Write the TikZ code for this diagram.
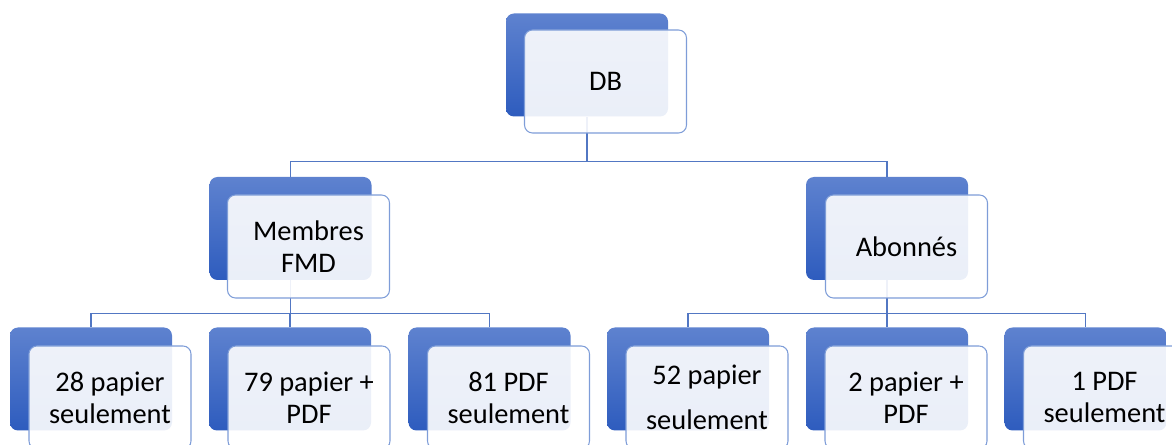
\documentclass[tikz,border=0pt]{standalone}
\usepackage{fontspec}
\setmainfont{Carlito}
\usetikzlibrary{positioning}
\definecolor{boxtop}{HTML}{5E82CF}
\definecolor{boxbot}{HTML}{2E5CBE}
\definecolor{boxline}{HTML}{7E9DD8}
\definecolor{linkcol}{HTML}{5277C3}
\begin{document}
\begin{tikzpicture}[x=0.75pt, y=-0.75pt,
  back/.style={rounded corners=6pt, top color=boxtop, bottom color=boxbot,
    minimum width=121.5pt, minimum height=77.25pt, inner sep=0pt},
  front/.style={rounded corners=6pt, draw=boxline, line width=0.8pt,
    fill=white, fill opacity=0.9, text opacity=1, inner sep=0pt,
    minimum width=121.5pt, minimum height=77.25pt, align=center,
    font=\fontsize{21.3}{24}\selectfont},
  link/.style={draw=linkcol, line width=0.8pt}]
\useasboundingbox (0,0) rectangle (1172,445);
\clip (0,0) rectangle (1172,445);
% back boxes
\node [back] (db) at (587, 65) {};
\node [back] (fmd) at (290.5, 228.5) {};
\node [back] (abo) at (887, 228.5) {};
\node [back] (p28) at (91, 379) {};
\node [back] (p79) at (290, 379) {};
\node [back] (pdf81) at (489.5, 379) {};
\node [back] (p52) at (688, 379) {};
\node [back] (p2) at (887, 379) {};
\node [back] (pdf1) at (1085.5, 379) {};
% connectors
\draw [link] (db.south) -- ++(0,45) -| (fmd.north);
\draw [link] (db.south) -- ++(0,45) -| (abo.north);
\draw [link] (fmd.south) -- ++(0,33) -| (p28.north);
\draw [link] (fmd.south) -- ++(0,33) -| (p79.north);
\draw [link] (fmd.south) -- ++(0,33) -| (pdf81.north);
\draw [link] (abo.south) -- ++(0,33) -| (p52.north);
\draw [link] (abo.south) -- ++(0,33) -| (p2.north);
\draw [link] (abo.south) -- ++(0,33) -| (pdf1.north);
% front boxes
\node [front] (db-lbl) at (605.5, 81.5) {DB};
\node [front] (fmd-lbl) at (308.5, 246.5) {Membres\\FMD};
\node [front] (abo-lbl) at (906.5, 246.5) {Abonnés};
\node [front] (p28-lbl) at (110, 397.5) {28 papier\\seulement};
\node [front] (p79-lbl) at (309, 397.5) {79 papier +\\PDF};
\node [front] (pdf81-lbl) at (508.5, 397.5) {81 PDF\\seulement};
\node [front] (p52-lbl) at (707, 397.5) {52 papier\\[10pt]seulement};
\node [front] (p2-lbl) at (906, 397.5) {2 papier +\\PDF};
\node [front] (pdf1-lbl) at (1104.5, 397.5) {1 PDF\\seulement};
\end{tikzpicture}
\end{document}
